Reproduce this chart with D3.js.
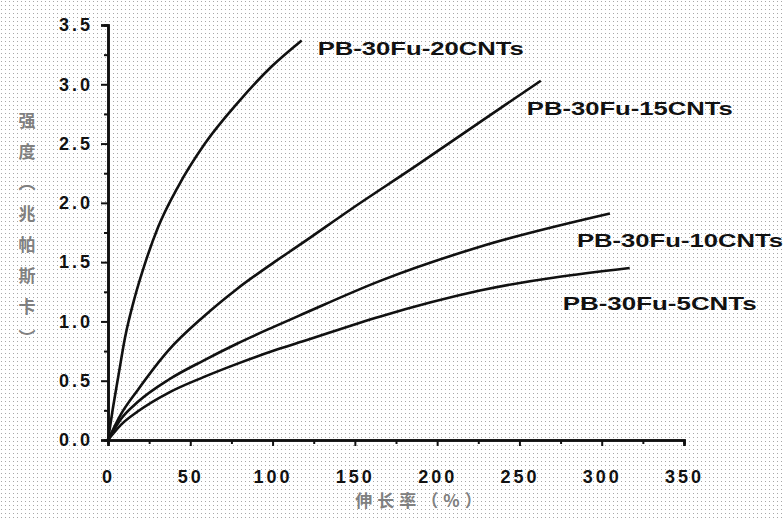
<!DOCTYPE html>
<html>
<head>
<meta charset="utf-8">
<script src="https://cdn.jsdelivr.net/npm/d3@7"></script>
<style>
  body { margin: 0; background: #fff; }
  svg { display: block; }
</style>
</head>
<body>
<div id="wrapper"></div>
<script>
// curve data (strain % / strength MPa)
const seriesNames = ["PB-30Fu-20CNTs", "PB-30Fu-15CNTs", "PB-30Fu-10CNTs", "PB-30Fu-5CNTs"]

const strain20 = [0, 3, 6.3, 10.3, 16.4, 22.5, 30.6, 42.7, 58.9, 79.2, 99.4, 117.7]
const stress20 = [0, 0.27, 0.54, 0.86, 1.21, 1.49, 1.8, 2.14, 2.5, 2.85, 3.15, 3.37]

const strain15 = [0, 8, 18, 37, 58, 78, 100, 118, 147, 188, 228, 263]
const stress15 = [0, 0.22, 0.42, 0.76, 1.04, 1.27, 1.49, 1.66, 1.94, 2.32, 2.7, 3.03]

const strain10 = [0, 8, 18, 37, 58, 78, 100, 118, 165, 226, 305]
const stress10 = [0, 0.18, 0.32, 0.51, 0.67, 0.81, 0.95, 1.06, 1.34, 1.63, 1.91]

const strain5 = [0, 8, 18, 37, 58, 78, 100, 118, 165, 226, 317]
const stress5 = [0, 0.13, 0.24, 0.4, 0.53, 0.64, 0.75, 0.83, 1.04, 1.26, 1.45]

const xTicks = [0, 50, 100, 150, 200, 250, 300, 350]
const yTicks = [0, 0.5, 1.0, 1.5, 2.0, 2.5, 3.0, 3.5]
const xMinorTicks = [25, 75, 125, 175, 225, 275, 325]
const yMinorTicks = [0.25, 0.75, 1.25, 1.75, 2.25, 2.75, 3.25]

const xTitle = "伸长率（%）"
const yTitle = "强度（兆帕斯卡）"

function drawChart() {
  let dimensions = {
    width: 784,
    height: 521,
    margin: { top: 25, right: 100, bottom: 81, left: 108 },
  }
  dimensions.boundedWidth = dimensions.width - dimensions.margin.left - dimensions.margin.right
  dimensions.boundedHeight = dimensions.height - dimensions.margin.top - dimensions.margin.bottom

  const series = [
    { name: seriesNames[0], xs: strain20, ys: stress20 },
    { name: seriesNames[1], xs: strain15, ys: stress15 },
    { name: seriesNames[2], xs: strain10, ys: stress10 },
    { name: seriesNames[3], xs: strain5, ys: stress5 },
  ].map(s => ({ name: s.name, points: s.xs.map((x, i) => ({ x, y: s.ys[i] })) }))

  const xScale = d3.scaleLinear().domain([0, 350]).range([0, dimensions.boundedWidth])
  const yScale = d3.scaleLinear().domain([0, 3.5]).range([dimensions.boundedHeight, 0])

  const wrapper = d3.select("#wrapper")
    .append("svg")
      .attr("width", dimensions.width)
      .attr("height", dimensions.height)

  // dotted screen background
  const pattern = wrapper.append("defs").append("pattern")
    .attr("id", "dots")
    .attr("width", 4)
    .attr("height", 4)
    .attr("patternUnits", "userSpaceOnUse")
  pattern.append("rect").attr("width", 4).attr("height", 4).attr("fill", "#fff")
  pattern.append("rect").attr("x", 1).attr("y", 1).attr("width", 1).attr("height", 1).attr("fill", "#a8a8a8")

  wrapper.append("rect")
    .attr("width", dimensions.width)
    .attr("height", dimensions.height)
    .attr("fill", "url(#dots)")

  const bounds = wrapper.append("g")
    .attr("transform", `translate(${dimensions.margin.left},${dimensions.margin.top})`)

  // curves
  const lineGen = d3.line()
    .x(d => xScale(d.x))
    .y(d => yScale(d.y))
    .curve(d3.curveMonotoneX)

  bounds.selectAll(".curve")
    .data(series)
    .join("path")
      .attr("class", "curve")
      .attr("d", d => lineGen(d.points))
      .attr("fill", "none")
      .attr("stroke", "#111")
      .attr("stroke-width", 2.6)

  // labels next to the curve ends
  const labelOffsets = [[16, 8], [-14, 28], [-33, 27], [-67, 35]]
  const labelWidths = [206, 206, 206, 194]
  bounds.selectAll(".curve-label")
    .data(series)
    .join("text")
      .attr("class", "curve-label")
      .attr("x", (d, i) => xScale(d.points[d.points.length - 1].x) + labelOffsets[i][0])
      .attr("y", (d, i) => yScale(d.points[d.points.length - 1].y) + labelOffsets[i][1])
      .attr("dy", "0.35em")
      .attr("textLength", (d, i) => labelWidths[i])
      .attr("lengthAdjust", "spacingAndGlyphs")
      .style("font-family", "'Liberation Sans', Arial, sans-serif")
      .style("font-weight", "bold")
      .style("font-size", "19px")
      .attr("fill", "#111")
      .text(d => d.name)

  // axes
  bounds.append("g")
    .call(d3.axisLeft(yScale).tickValues(yTicks).tickSize(7).tickPadding(8).tickFormat(d3.format(".1f")))
  bounds.append("g")
    .call(d3.axisLeft(yScale).tickValues(yMinorTicks).tickSize(4).tickFormat(""))

  bounds.append("g")
    .attr("transform", `translate(0,${dimensions.boundedHeight})`)
    .call(d3.axisBottom(xScale).tickValues(xTicks).tickSize(6).tickPadding(24).tickFormat(d3.format("d")))
  bounds.append("g")
    .attr("transform", `translate(0,${dimensions.boundedHeight})`)
    .call(d3.axisBottom(xScale).tickValues(xMinorTicks).tickSize(4).tickFormat(""))

  bounds.selectAll(".domain").attr("stroke", "#111").attr("stroke-width", 2.6)
  bounds.selectAll(".tick line").attr("stroke", "#111").attr("stroke-width", 2)
  bounds.selectAll(".tick text")
    .attr("fill", "#111")
    .style("font-family", "'Liberation Sans', Arial, sans-serif")
    .style("font-weight", "bold")
    .style("font-size", "18px")
    .style("letter-spacing", "3px")

  // axis titles
  wrapper.append("text")
    .attr("x", 421)
    .attr("y", 507)
    .attr("text-anchor", "middle")
    .attr("fill", "#808080")
    .style("font-family", "'Noto Sans CJK SC', sans-serif")
    .style("font-weight", "bold")
    .style("font-size", "17px")
    .style("letter-spacing", "5px")
    .text(xTitle)

  wrapper.append("text")
    .attr("x", 27)
    .attr("y", 236)
    .attr("text-anchor", "middle")
    .attr("fill", "#808080")
    .style("writing-mode", "vertical-rl")
    .style("font-family", "'Noto Sans CJK SC', sans-serif")
    .style("font-weight", "bold")
    .style("font-size", "17px")
    .style("letter-spacing", "14px")
    .text(yTitle)
}

drawChart()
</script>
</body>
</html>
